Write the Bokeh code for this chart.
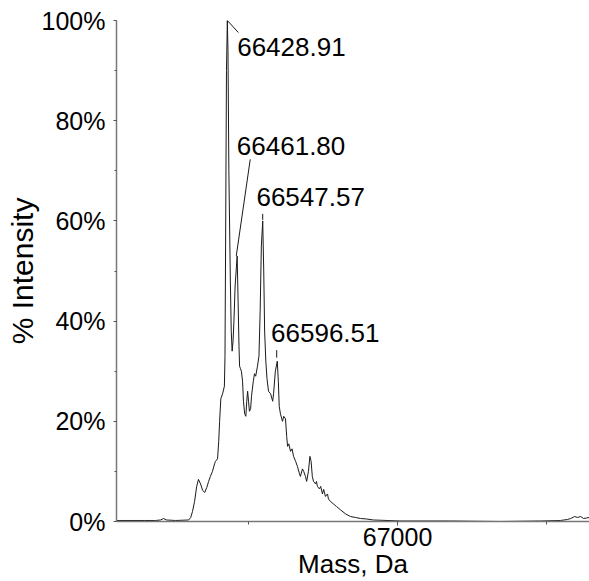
from bokeh.plotting import figure
from bokeh.models import FixedTicker, PrintfTickFormatter, Label, Range1d
from bokeh.embed import file_html
from bokeh.resources import INLINE

# ---- data ----
mass_da = [66057, 66150, 66188, 66205, 66215, 66225, 66255, 66299, 66306, 66312,
           66319, 66326, 66332, 66339, 66346, 66353, 66360, 66366, 66372, 66379,
           66386, 66389, 66396, 66400, 66403, 66407, 66413, 66419, 66421, 66423,
           66426, 66428.9, 66431, 66434, 66439, 66442, 66445, 66448, 66451, 66455,
           66461.8, 66465, 66468, 66470, 66473, 66476, 66480, 66483, 66487, 66491,
           66494, 66497, 66500, 66503, 66507, 66510, 66516, 66520, 66524, 66530,
           66535, 66539, 66543, 66547.6, 66551, 66554, 66558, 66562, 66567, 66574,
           66581, 66584, 66590, 66596.5, 66600, 66603, 66607, 66614, 66618, 66624,
           66628, 66631, 66635, 66641, 66646, 66651, 66658, 66664, 66671, 66674,
           66681, 66685, 66691, 66695, 66701, 66706, 66710, 66714, 66718, 66725,
           66728, 66731, 66738, 66742, 66748, 66752, 66758, 66765, 66768, 66775,
           66785, 66795, 66809, 66826, 66842, 66859, 66876, 66896, 66919, 67010,
           67178, 67346, 67480, 67547, 67570, 67581, 67594, 67604, 67614, 67624,
           67634, 67644]
intensity_pct = [0.2, 0.2, 0.2, 0.3, 0.6, 0.3, 0.2, 0.3, 0.8, 2.0,
                 4.0, 7.0, 8.4, 7.5, 6.2, 5.8, 6.8, 8.0, 9.0, 10.0,
                 11.5, 12.0, 12.5, 16.0, 20.0, 24.5, 25.5, 27.0, 33.0, 55.0,
                 90.0, 100.0, 94.0, 70.0, 48.0, 38.0, 34.0, 36.0, 40.0, 47.0,
                 53.0, 44.0, 35.0, 31.0, 30.5, 30.0, 28.0, 24.0, 21.5, 21.0,
                 24.0, 26.0, 24.0, 22.0, 22.5, 25.0, 28.0, 29.5, 29.0, 31.0,
                 33.0, 42.0, 55.0, 60.0, 50.0, 38.0, 32.0, 28.5, 26.0, 25.5,
                 24.0, 25.5, 30.0, 32.0, 28.0, 23.0, 21.5, 20.0, 21.0, 20.5,
                 17.0, 15.0, 15.5, 14.0, 14.5, 13.0, 12.0, 11.0, 9.5, 9.0,
                 10.5, 10.0, 9.0, 8.0, 10.0, 13.0, 12.0, 9.0, 8.0, 7.5,
                 8.0, 7.0, 6.5, 7.0, 5.5, 6.4, 5.0, 5.5, 4.5, 4.0,
                 3.5, 3.0, 2.3, 1.5, 1.0, 0.8, 0.6, 0.5, 0.3, 0.1,
                 0.1, 0.0, 0.1, 0.2, 0.4, 0.6, 1.0, 0.8, 1.0, 0.6,
                 0.7, 0.8]

peak_mass = [66428.91, 66461.80, 66547.57, 66596.51]
peak_intensity = [100.0, 53.0, 60.0, 32.0]

y_ticks = [0, 20, 40, 60, 80, 100]
y_minor_ticks = [0, 10, 20, 30, 40, 50, 60, 70, 80, 90, 100]
x_ticks = [67000]
x_minor_ticks = [66500, 67000, 67500]

# ---- label layout (data-unit offsets from each peak) ----
text_dx = [33, -1, -21, -21]
text_dy = [-5.2, 22.0, 4.8, 5.7]
leader_start = [(0, 0), (-3, 0), (0, 0.2), (-2, 0.7)]
leader_end = [(37, -2.4), (44, 19.3), (0, 1.4), (-2, 2.2)]

FONT = "Liberation Sans"

p = figure(width=589, height=581, output_backend="svg", toolbar_location=None,
           x_range=Range1d(66057, 67644), y_range=Range1d(0, 100),
           min_border_left=116, min_border_right=0, min_border_top=20,
           min_border_bottom=60)
p.grid.visible = False
p.outline_line_color = None
p.background_fill_color = "white"
p.border_fill_color = "white"

p.line(mass_da, intensity_pct, line_color="#1a1a1a", line_width=1)

# leaders
x0 = [m + s[0] for m, s in zip(peak_mass, leader_start)]
y0 = [v + s[1] for v, s in zip(peak_intensity, leader_start)]
x1 = [m + e[0] for m, e in zip(peak_mass, leader_end)]
y1 = [v + e[1] for v, e in zip(peak_intensity, leader_end)]
p.segment(x0=x0, y0=y0, x1=x1, y1=y1, line_color="#1a1a1a", line_width=1)

for m, v, dx, dy in zip(peak_mass, peak_intensity, text_dx, text_dy):
    p.add_layout(Label(x=m + dx, y=v + dy, text=f"{m:.2f}",
                       text_font=FONT, text_font_size="26px",
                       text_color="black", text_baseline="alphabetic",
                       text_align="left"))

# y axis
ya = p.yaxis[0]
ya.ticker = FixedTicker(ticks=y_ticks, minor_ticks=y_minor_ticks)
ya.formatter = PrintfTickFormatter(format="%d%%")
ya.major_label_text_font = FONT
ya.major_label_text_font_size = "25px"
ya.major_label_text_color = "black"
ya.major_label_standoff = 8
ya.axis_line_color = "#777777"
ya.axis_line_width = 1.5
ya.major_tick_line_color = "#555555"
ya.minor_tick_line_color = "#555555"
ya.major_tick_out = 3
ya.major_tick_in = 0
ya.minor_tick_out = 2
ya.minor_tick_in = 0
ya.axis_label = "% Intensity"
ya.axis_label_text_font = FONT
ya.axis_label_text_font_size = "30px"
ya.axis_label_text_font_style = "normal"
ya.axis_label_text_color = "black"
ya.axis_label_standoff = 0

# x axis
xa = p.xaxis[0]
xa.ticker = FixedTicker(ticks=x_ticks, minor_ticks=x_minor_ticks)
xa.major_label_overrides = {t: str(t) for t in x_ticks}
xa.major_label_text_font = FONT
xa.major_label_text_font_size = "25px"
xa.major_label_text_color = "black"
xa.major_label_standoff = 2
xa.axis_line_color = "#777777"
xa.axis_line_width = 1.5
xa.major_tick_line_color = "#555555"
xa.minor_tick_line_color = "#555555"
xa.major_tick_out = 4
xa.major_tick_in = 0
xa.minor_tick_out = 3
xa.minor_tick_in = 0
xa.axis_label = "Mass, Da"
xa.axis_label_text_font = FONT
xa.axis_label_text_font_size = "26px"
xa.axis_label_text_font_style = "normal"
xa.axis_label_text_color = "black"
xa.axis_label_standoff = 0

open("out.html", "w").write(file_html(p, INLINE))
